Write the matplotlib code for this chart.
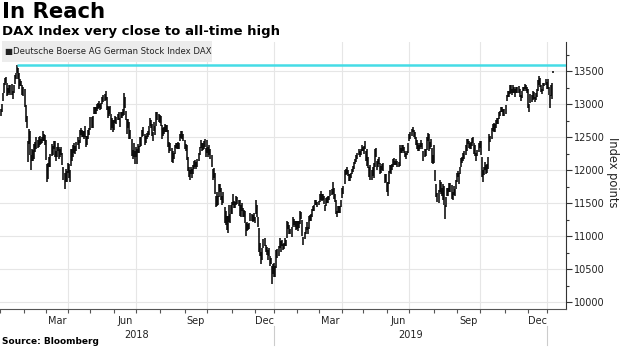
import numpy as np
import pandas as pd
import matplotlib
matplotlib.use("Agg")
import matplotlib.pyplot as plt
from matplotlib.patches import Rectangle
from matplotlib.lines import Line2D
from matplotlib.transforms import blended_transform_factory

# DAX daily lows / highs, one value per trading day
lows_2018 = [
    12830, 12890, 13050, 13180, 13290, 13330, 13130, 13140, 13180, 13150, 13140, 13090, 13180, 13310, 13390, 13470, 13390, 13240, 13280, 13280, 13150, 13130,  # Jan
    12960, 12740, 12640, 12130, 12400, 12240, 12003, 12140, 12150, 12170, 12280, 12330, 12340, 12360, 12390, 12400, 12410, 12440, 12440, 12380,  # Feb
    12160, 11830, 11870, 12050, 12060, 12220, 12240, 12330, 12200, 12150, 12200, 12300, 12170, 12200, 12230, 12080, 11860, 11727, 11820, 11830, 11960,  # Mar
    11880, 11830, 12070, 12150, 12200, 12270, 12250, 12290, 12390, 12330, 12420, 12540, 12510, 12500, 12480, 12510, 12350, 12390, 12480, 12540,  # Apr
    12620, 12640, 12650, 12860, 12850, 12860, 12900, 12930, 12950, 12920, 12930, 13000, 13040, 13050, 13070, 12920, 12800, 12830, 12850, 12620, 12650, 12580,  # May
    12620, 12720, 12700, 12760, 12760, 12660, 12790, 12800, 12830, 12840, 12950, 12760, 12550, 12650, 12480, 12480, 12220, 12180, 12200, 12100, 12210,  # Jun
    12100, 12260, 12260, 12350, 12370, 12500, 12530, 12380, 12410, 12480, 12500, 12540, 12680, 12640, 12530, 12450, 12600, 12540, 12680, 12760, 12740, 12720,  # Jul
    12680, 12470, 12520, 12560, 12580, 12590, 12580, 12360, 12270, 12300, 12130, 12110, 12180, 12250, 12340, 12330, 12320, 12330, 12440, 12490, 12480, 12440, 12320,  # Aug
    12290, 12160, 11990, 11900, 11860, 11940, 11880, 11950, 12020, 12060, 12030, 12050, 12150, 12230, 12340, 12290, 12310, 12330, 12350, 12200,  # Sep
    12260, 12200, 12240, 12170, 12060, 11860, 11880, 11650, 11450, 11460, 11480, 11600, 11670, 11560, 11480, 11500, 11200, 11170, 11100, 11050, 11220, 11200, 11340,  # Oct
    11340, 11480, 11430, 11430, 11480, 11490, 11460, 11310, 11300, 11380, 11290, 11290, 11200, 11010, 11080, 11100, 11110, 11230, 11230, 11220, 11240, 11210,  # Nov
    11340, 11300, 11150, 10760, 10700, 10580, 10640, 10820, 10860, 10770, 10720, 10650, 10700, 10560, 10590, 10279, 10430,  # Dec
]
highs_2018 = [
    12930, 13000, 13180, 13330, 13400, 13420, 13320, 13250, 13300, 13290, 13310, 13200, 13300, 13440, 13480, 13597, 13560, 13470, 13390, 13360, 13300, 13260,
    13230, 12990, 12830, 12450, 12630, 12600, 12230, 12330, 12310, 12400, 12430, 12500, 12460, 12500, 12520, 12480, 12500, 12600, 12560, 12540,
    12460, 12100, 12110, 12200, 12250, 12400, 12370, 12450, 12440, 12290, 12350, 12410, 12360, 12330, 12350, 12260, 12050, 11960, 12020, 11990, 12110,
    12100, 12010, 12320, 12320, 12380, 12420, 12370, 12430, 12500, 12460, 12610, 12640, 12620, 12600, 12600, 12670, 12530, 12520, 12620, 12640,
    12810, 12810, 12830, 12960, 12960, 12960, 13010, 13020, 13050, 13010, 13020, 13120, 13140, 13160, 13205, 13120, 12980, 12960, 12970, 12850, 12800, 12770,
    12760, 12820, 12810, 12850, 12880, 12800, 12880, 12880, 12930, 13170, 13110, 12900, 12780, 12780, 12730, 12620, 12480, 12310, 12420, 12290, 12360,
    12330, 12400, 12370, 12500, 12510, 12620, 12660, 12560, 12530, 12570, 12600, 12680, 12790, 12760, 12700, 12580, 12740, 12680, 12890, 12880, 12860, 12840,
    12830, 12690, 12640, 12660, 12700, 12690, 12690, 12610, 12430, 12410, 12340, 12290, 12270, 12380, 12420, 12420, 12430, 12420, 12560, 12600, 12600, 12560, 12460,
    12400, 12380, 12210, 12060, 12010, 12060, 12020, 12080, 12150, 12160, 12130, 12180, 12260, 12350, 12460, 12420, 12420, 12440, 12470, 12340,
    12460, 12350, 12390, 12320, 12230, 12020, 12040, 11960, 11620, 11680, 11620, 11800, 11800, 11730, 11620, 11680, 11450, 11380, 11310, 11310, 11470, 11340, 11480,
    11520, 11650, 11540, 11520, 11620, 11600, 11550, 11560, 11480, 11500, 11430, 11400, 11380, 11200, 11220, 11190, 11200, 11360, 11340, 11320, 11350, 11300,
    11550, 11480, 11300, 11130, 10900, 10760, 10830, 10960, 10980, 10870, 10840, 10800, 10830, 10700, 10680, 10560, 10580,
]
lows_2019 = [
    10390, 10390, 10520, 10680, 10710, 10820, 10770, 10850, 10800, 10810, 10860, 10850, 10970, 11120, 11030, 11030, 10990, 11140, 11170, 11150, 11100, 11110,  # Jan
    11090, 11130, 11190, 11260, 11010, 10865, 10960, 11030, 11100, 11040, 11110, 11240, 11240, 11290, 11380, 11380, 11480, 11470, 11450, 11470,  # Feb
    11530, 11560, 11540, 11560, 11490, 11380, 11460, 11500, 11510, 11550, 11610, 11630, 11640, 11570, 11520, 11340, 11300, 11360, 11360, 11350, 11450,  # Mar
    11580, 11640, 11800, 11930, 11950, 11910, 11840, 11840, 11890, 11950, 11980, 12020, 12100, 12130, 12180, 12230, 12210, 12230, 12290, 12290,  # Apr
    12250, 12330, 12150, 12070, 12040, 11900, 11850, 11860, 11910, 11890, 12050, 12200, 12000, 12050, 12100, 11940, 11960, 12000, 11990, 11810, 11820, 11680,  # May
    11620, 11800, 11960, 11950, 12000, 12060, 12090, 12080, 12080, 12050, 12050, 12070, 12260, 12270, 12300, 12260, 12200, 12180, 12230, 12260,  # Jun
    12440, 12480, 12530, 12580, 12510, 12480, 12390, 12330, 12300, 12290, 12320, 12360, 12320, 12150, 12200, 12220, 12310, 12450, 12300, 12320, 12360, 12120, 12100,  # Jul
    12110, 11840, 11600, 11520, 11510, 11670, 11650, 11610, 11560, 11470, 11266, 11450, 11620, 11620, 11680, 11680, 11570, 11550, 11630, 11620, 11720, 11830,  # Aug
    11900, 11800, 11940, 12050, 12120, 12140, 12170, 12240, 12300, 12400, 12340, 12320, 12330, 12370, 12410, 12250, 12220, 12140, 12220, 12280, 12340,  # Sep
    12240, 11900, 11830, 11930, 12000, 11950, 11960, 12030, 12300, 12430, 12480, 12600, 12590, 12580, 12650, 12700, 12700, 12780, 12820, 12880, 12890, 12830, 12820,  # Oct
    12850, 13050, 13110, 13110, 13160, 13170, 13150, 13180, 13180, 13120, 13180, 13180, 13180, 13110, 13060, 13100, 13200, 13210, 13230, 13210, 13180,  # Nov
    12950, 12890, 13030, 13040, 13070, 13090, 13040, 13070, 13110, 13210, 13290, 13270, 13190, 13160, 13200, 13280, 13300, 13230,  # Dec
]
highs_2019 = [
    10600, 10560, 10790, 10810, 10850, 10980, 10930, 10950, 10880, 10900, 10980, 10940, 11230, 11220, 11170, 11110, 11150, 11300, 11260, 11240, 11240, 11240,
    11230, 11230, 11380, 11370, 11250, 10990, 11070, 11150, 11220, 11150, 11310, 11330, 11340, 11420, 11460, 11470, 11560, 11550, 11520, 11540,
    11640, 11690, 11640, 11650, 11610, 11470, 11580, 11600, 11610, 11620, 11710, 11720, 11820, 11730, 11640, 11560, 11390, 11460, 11460, 11460, 11560,
    11730, 11770, 12000, 12020, 12050, 12000, 11950, 11940, 11960, 12030, 12070, 12130, 12180, 12230, 12270, 12330, 12300, 12330, 12390, 12360,
    12370, 12440, 12300, 12320, 12200, 12060, 12080, 12000, 12050, 12110, 12320, 12340, 12150, 12170, 12200, 12120, 12070, 12100, 12120, 11940, 11940, 11820,
    11820, 11990, 12080, 12080, 12100, 12180, 12190, 12150, 12180, 12140, 12130, 12380, 12340, 12380, 12390, 12350, 12300, 12260, 12300, 12410,
    12560, 12580, 12630, 12660, 12620, 12580, 12500, 12460, 12410, 12380, 12420, 12460, 12420, 12300, 12320, 12330, 12500, 12570, 12560, 12430, 12470, 12340, 12230,
    12390, 12010, 11800, 11660, 11700, 11850, 11820, 11730, 11800, 11760, 11470, 11600, 11740, 11740, 11810, 11810, 11780, 11680, 11770, 11720, 11850, 11960,
    11990, 11960, 12050, 12190, 12210, 12260, 12300, 12380, 12470, 12480, 12440, 12420, 12430, 12490, 12500, 12420, 12380, 12270, 12310, 12420, 12440,
    12440, 12200, 12000, 12050, 12130, 12090, 12100, 12200, 12550, 12520, 12650, 12700, 12720, 12700, 12760, 12800, 12800, 12890, 12900, 12960, 12960, 12930, 12930,
    12990, 13150, 13200, 13200, 13300, 13300, 13240, 13300, 13260, 13230, 13260, 13270, 13280, 13230, 13150, 13210, 13270, 13270, 13310, 13290, 13270,
    13240, 13000, 13160, 13140, 13200, 13190, 13120, 13170, 13240, 13370, 13425, 13400, 13300, 13240, 13330, 13330, 13380, 13340,
]
lows_2020 = [13230, 13140, 12950, 13130, 13080, 13480]
highs_2020 = [13390, 13270, 13150, 13290, 13320, 13510]

all_time_high = 13597
closed = ["2018-01-01", "2018-03-30", "2018-04-02", "2018-05-01", "2018-12-24", "2018-12-25",
          "2018-12-26", "2018-12-31", "2019-01-01", "2019-04-19", "2019-04-22", "2019-05-01",
          "2019-12-24", "2019-12-25", "2019-12-26", "2019-12-31", "2020-01-01"]
label_months = [3, 6, 9, 12]
month_names = {3: "Mar", 6: "Jun", 9: "Sep", 12: "Dec"}

days = pd.bdate_range("2018-01-01", "2020-01-09")
dates = days[~days.isin(pd.to_datetime(closed))]
lows = np.array(lows_2018 + lows_2019 + lows_2020)
highs = np.array(highs_2018 + highs_2019 + highs_2020)
assert len(dates) == len(lows) == len(highs)
x = np.arange(len(dates))

# month boundaries in trading-day index
months = dates.to_period("M")
starts = np.flatnonzero(months[1:] != months[:-1]) + 1
bounds = np.concatenate([[0], starts]) - 0.5
bound_months = [months[0]] + [months[i] for i in starts]

fig = plt.figure(figsize=(6.2, 3.48), dpi=100)
ax = fig.add_axes([0, 39 / 348, 566 / 620, 267 / 348])

grid_c = "#e6e6e6"
for v in range(10000, 14000, 500):
    ax.axhline(v, color=grid_c, lw=0.8, zorder=0)
for b, m in zip(bounds, bound_months):
    if m.month in (1, 4, 7, 10) and b > 0:
        ax.axvline(b, color=grid_c, lw=0.8, zorder=0)

ax.vlines(x, lows, highs, color="black", lw=1.1, zorder=3)
ath_idx = int(np.argmax(highs[:len(lows_2018)]))
ax.hlines(all_time_high, ath_idx, 540, color="#45dce6", lw=1.8, zorder=4)

ax.set_xlim(-0.7, 522.9)
ax.set_ylim(9901, 13947)

ax.yaxis.tick_right()
ax.set_yticks(range(10000, 14000, 500))
ax.set_yticks(range(10250, 14000, 500), minor=True)
ax.tick_params(axis="y", which="major", length=4, width=0.8, color="#333333",
               labelsize=7, pad=2, labelcolor="#222222")
ax.tick_params(axis="y", which="minor", length=2, width=0.8, color="#333333")

# month ticks, labels centred in month
ax.set_xticks(bounds)
ax.set_xticklabels([])
ax.tick_params(axis="x", which="major", length=3, width=0.8, color="#555555")
label_pos, label_txt = [], []
for i, m in enumerate(bound_months):
    if m.month in label_months and i + 1 < len(bounds):
        label_pos.append((bounds[i] + bounds[i + 1]) / 2)
        label_txt.append(month_names[m.month])
ax.set_xticks(label_pos, minor=True)
ax.set_xticklabels(label_txt, minor=True)
ax.tick_params(axis="x", which="minor", length=0, labelsize=7, pad=5, labelcolor="#222222")

for s in ["top", "left"]:
    ax.spines[s].set_visible(False)
ax.spines["right"].set_color("#333333")
ax.spines["bottom"].set_color("#555555")
ax.spines["right"].set_linewidth(0.8)
ax.spines["bottom"].set_linewidth(0.8)

# year labels and separators under the axis
tr = blended_transform_factory(ax.transData, fig.transFigure)
year_bounds = [b for b, m in zip(bounds, bound_months) if m.month == 1]
year_bounds[0] = -0.5
for y0, y1, yr in zip(year_bounds[:-1], year_bounds[1:], ["2018", "2019"]):
    fig.text((y0 + y1) / 2, 1 - 335 / 348, yr, transform=tr, ha="center", va="center",
             fontsize=7, color="#222222")
for b in year_bounds[1:]:
    fig.add_artist(Line2D([b, b], [1 - 326 / 348, 1 - 345 / 348], transform=tr,
                          color="#cccccc", lw=0.8))

# legend box
fig.add_artist(Rectangle((2 / 620, 1 - 62 / 348), 210 / 620, 21 / 348,
                         transform=fig.transFigure, facecolor="#ececec", edgecolor="none"))
fig.text(5 / 620, 1 - 51.5 / 348, "\u25a0Deutsche Boerse AG German Stock Index DAX",
         fontsize=6.1, va="center", ha="left", color="#222222")

fig.text(612 / 620, 1 - 172 / 348, "Index points", rotation=270, fontsize=8.3,
         ha="center", va="center", color="#222222")

fig.text(2 / 620, 1 - 12 / 348, "In Reach", fontsize=15.3, fontweight="bold",
         ha="left", va="center", color="black")
fig.text(2 / 620, 1 - 31 / 348, "DAX Index very close to all-time high", fontsize=9.5,
         fontweight="bold", ha="left", va="center", color="black")
fig.text(2 / 620, 1 - 342 / 348, "Source: Bloomberg", fontsize=6.5, fontweight="bold",
         ha="left", va="center", color="black")

fig.savefig("out.png", dpi=100)
